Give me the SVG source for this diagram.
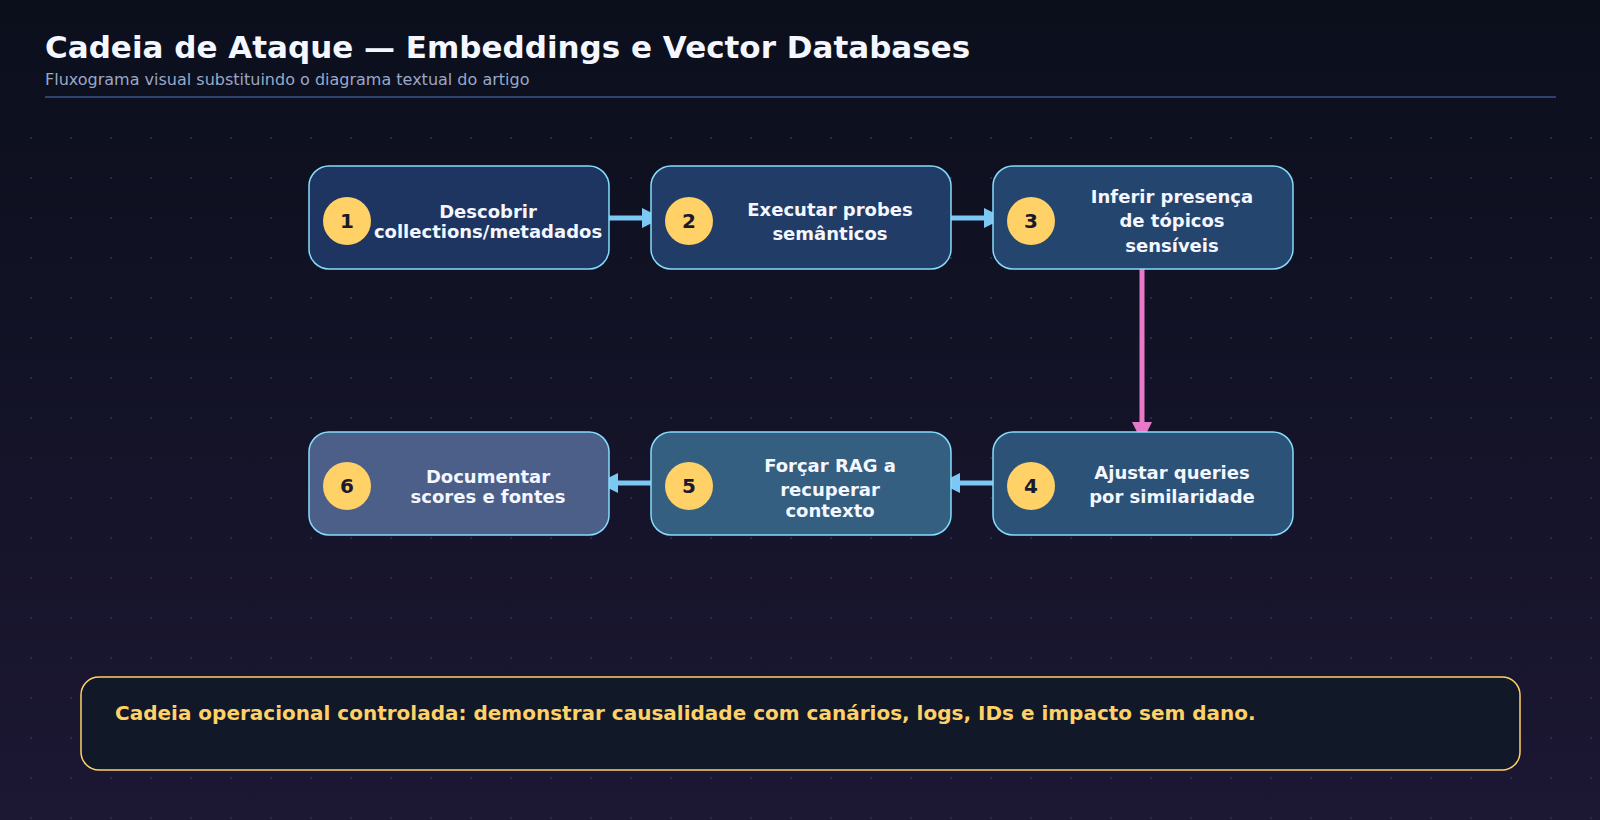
<svg xmlns="http://www.w3.org/2000/svg" width="1600" height="820" viewBox="0 0 1600 820">
<defs>
<linearGradient id="bg" x1="0" y1="0" x2="0" y2="1"><stop offset="0" stop-color="#0b0f1c"/><stop offset="1" stop-color="#1c1733"/></linearGradient>
<pattern id="dots" x="30" y="17" width="40" height="40" patternUnits="userSpaceOnUse"><circle cx="1" cy="1" r="1" fill="#2a3458"/></pattern>
<marker id="ab" viewBox="0 0 10 10" refX="8" refY="5" markerWidth="4" markerHeight="4" orient="auto"><path d="M0,0 L10,5 L0,10 z" fill="#7cc8f5"/></marker>
<marker id="ap" viewBox="0 0 10 10" refX="8" refY="5" markerWidth="4" markerHeight="4" orient="auto"><path d="M0,0 L10,5 L0,10 z" fill="#e879c9"/></marker>
<style>
.box{stroke:#86dcfb;stroke-width:1.5}
.num{fill:#ffd166}
.nt{font:bold 20px "DejaVu Sans",sans-serif;fill:#1a1a2e;text-anchor:middle}
.lb{font:bold 18px "DejaVu Sans",sans-serif;fill:#f4f7ff;text-anchor:middle}
.c{fill:none;stroke:#7cc8f5;stroke-width:5;marker-end:url(#ab)}
</style>
</defs>
<rect width="1600" height="820" fill="url(#bg)"/>
<rect y="100" width="1600" height="720" fill="url(#dots)"/>
<text x="45" y="58" font-family="DejaVu Sans, sans-serif" font-weight="bold" font-size="31" fill="#f4f7ff">Cadeia de Ataque — Embeddings e Vector Databases</text>
<text x="45" y="85" font-family="DejaVu Sans, sans-serif" font-size="16" fill="#9aa8c8">Fluxograma visual substituindo o diagrama textual do artigo</text>
<line x1="45" y1="97" x2="1556" y2="97" stroke="#2e4170" stroke-width="2"/>
<g id="connectors">
<line class="c" x1="606" y1="218" x2="658" y2="218"/>
<line class="c" x1="948" y1="218" x2="1000" y2="218"/>
<line x1="1142" y1="266" x2="1142" y2="438" stroke="#e879c9" stroke-width="5" marker-end="url(#ap)"/>
<line class="c" x1="997" y1="483" x2="944" y2="483"/>
<line class="c" x1="655" y1="483" x2="602" y2="483"/>
</g>
<g id="n1"><rect class="box" x="309" y="166" width="300" height="103" rx="20" fill="#1d3560"/><circle class="num" cx="347" cy="221" r="24"/><text class="nt" x="347" y="228">1</text><text class="lb" x="488" y="218">Descobrir</text><text class="lb" x="488" y="238">collections/metadados</text></g>
<g id="n2"><rect class="box" x="651" y="166" width="300" height="103" rx="20" fill="#213c66"/><circle class="num" cx="689" cy="221" r="24"/><text class="nt" x="689" y="228">2</text><text class="lb" x="830" y="216">Executar probes</text><text class="lb" x="830" y="240">semânticos</text></g>
<g id="n3"><rect class="box" x="993" y="166" width="300" height="103" rx="20" fill="#24456e"/><circle class="num" cx="1031" cy="221" r="24"/><text class="nt" x="1031" y="228">3</text><text class="lb" x="1172" y="203">Inferir presença</text><text class="lb" x="1172" y="227">de tópicos</text><text class="lb" x="1172" y="252">sensíveis</text></g>
<g id="n4"><rect class="box" x="993" y="432" width="300" height="103" rx="20" fill="#2c5277"/><circle class="num" cx="1031" cy="486" r="24"/><text class="nt" x="1031" y="493">4</text><text class="lb" x="1172" y="479">Ajustar queries</text><text class="lb" x="1172" y="503">por similaridade</text></g>
<g id="n5"><rect class="box" x="651" y="432" width="300" height="103" rx="20" fill="#345f81"/><circle class="num" cx="689" cy="486" r="24"/><text class="nt" x="689" y="493">5</text><text class="lb" x="830" y="472">Forçar RAG a</text><text class="lb" x="830" y="496">recuperar</text><text class="lb" x="830" y="517">contexto</text></g>
<g id="n6"><rect class="box" x="309" y="432" width="300" height="103" rx="20" fill="#4b5f89"/><circle class="num" cx="347" cy="486" r="24"/><text class="nt" x="347" y="493">6</text><text class="lb" x="488" y="483">Documentar</text><text class="lb" x="488" y="503">scores e fontes</text></g>
<g id="note"><rect x="81" y="677" width="1439" height="93" rx="18" fill="#111827" stroke="#ffd166" stroke-width="1.5"/><text x="115" y="720" font-family="DejaVu Sans, sans-serif" font-weight="bold" font-size="20" fill="#ffd166">Cadeia operacional controlada: demonstrar causalidade com canários, logs, IDs e impacto sem dano.</text></g>
</svg>
